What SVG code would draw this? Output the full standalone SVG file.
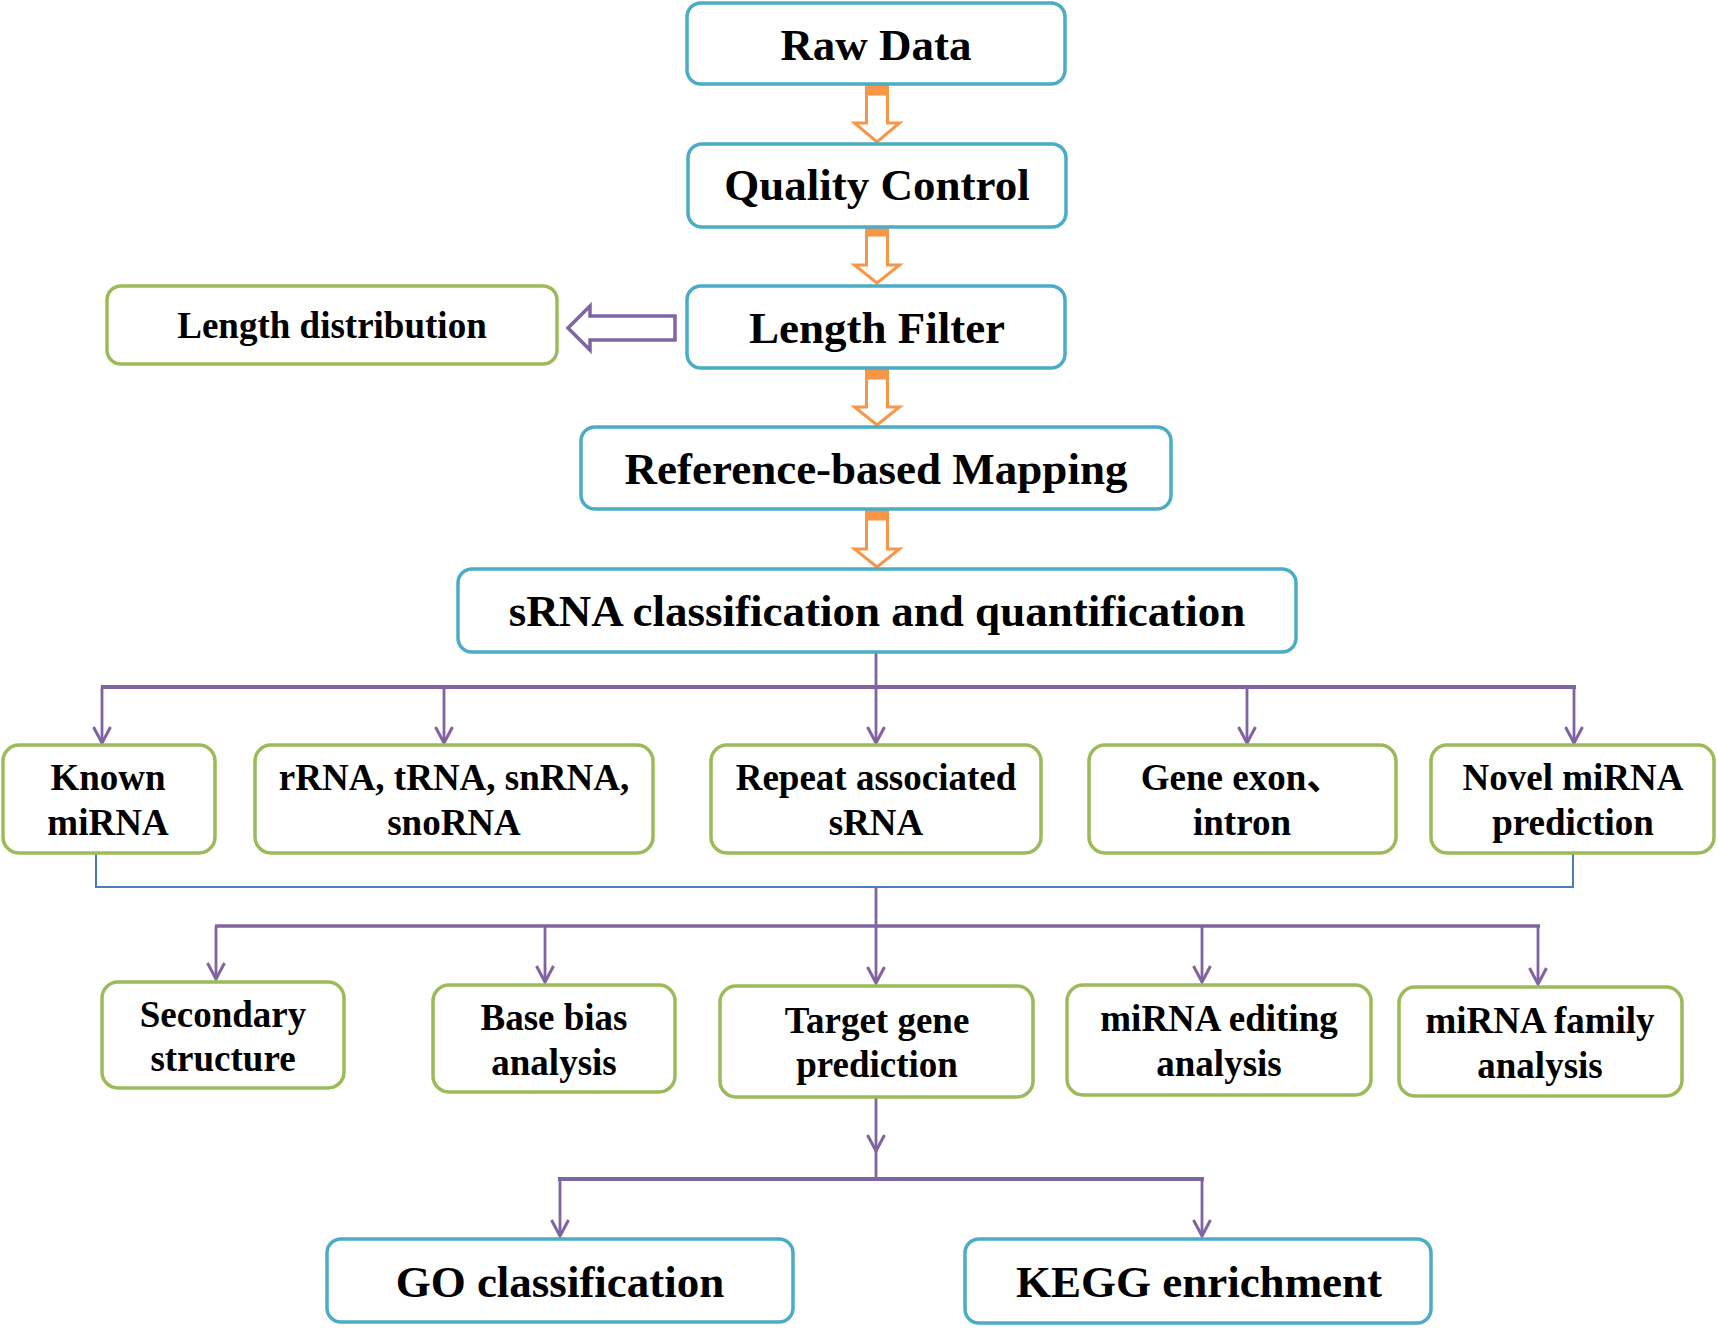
<svg xmlns="http://www.w3.org/2000/svg" width="1718" height="1335" viewBox="0 0 1718 1335">
<style>
  .bb { fill: #FFFFFF; stroke: #4BACC6; stroke-width: 3.5; }
  .gb { fill: #FFFFFF; stroke: #9BBB59; stroke-width: 3.5; }
  .t45 { font-family: "Liberation Serif", "Times New Roman", serif; font-weight: bold; font-size: 45px; fill: #000000; text-anchor: middle; }
  .t37 { font-family: "Liberation Serif", "Times New Roman", "Noto Sans CJK SC", serif; font-weight: bold; font-size: 37px; fill: #000000; text-anchor: middle; }
  .oa { fill: #FFFFFF; stroke: #F79646; stroke-width: 3; stroke-linejoin: miter; }
  .ob { fill: #F79646; stroke: none; }
  .pa { fill: #FFFFFF; stroke: #8064A2; stroke-width: 3.5; }
  .pl { fill: none; stroke: #8064A2; stroke-width: 2.8; }
  .ph { fill: none; stroke: #8064A2; stroke-width: 4; }
  .bl { fill: none; stroke: #4A7EBB; stroke-width: 2; }
</style>
<defs>
  <marker id="v" viewBox="-20 -12 24 24" refX="0" refY="0" markerWidth="24" markerHeight="24" markerUnits="userSpaceOnUse" orient="auto">
    <path d="M-16,-8.5 L0,0 L-16,8.5" fill="none" stroke="#8064A2" stroke-width="3"/>
  </marker>
</defs>
<rect width="1718" height="1335" fill="#FFFFFF"/>

<g id="connectors">
  <!-- orange block arrows -->
  <g id="arrow-raw-qc">
    <rect class="ob" x="865" y="83" width="24" height="11"/>
    <path class="oa" d="M866.5,94 V123 H854.5 L877,142 L899.5,123 H887.5 V94 Z"/>
  </g>
  <g id="arrow-qc-lf">
    <rect class="ob" x="865" y="225" width="24" height="10"/>
    <path class="oa" d="M866.5,235 V265 H854.5 L877,283 L899.5,265 H887.5 V235 Z"/>
  </g>
  <g id="arrow-lf-rbm">
    <rect class="ob" x="865" y="367" width="24" height="11"/>
    <path class="oa" d="M866.5,378 V407 H854.5 L877,425 L899.5,407 H887.5 V378 Z"/>
  </g>
  <g id="arrow-rbm-srna">
    <rect class="ob" x="865" y="508" width="24" height="11"/>
    <path class="oa" d="M866.5,519 V549 H854.5 L877,567 L899.5,549 H887.5 V519 Z"/>
  </g>
  <!-- purple hollow left arrow -->
  <path id="arrow-lf-ld" class="pa" d="M675,316 V340 H590 V350 L568,328 L590,306 V316 Z"/>

  <!-- level 1 tree -->
  <line class="pl" x1="876" y1="652" x2="876" y2="687"/>
  <line class="ph" x1="101" y1="687" x2="1576" y2="687"/>
  <line class="pl" x1="102" y1="687" x2="102" y2="743" marker-end="url(#v)"/>
  <line class="pl" x1="444" y1="687" x2="444" y2="743" marker-end="url(#v)"/>
  <line class="pl" x1="876" y1="687" x2="876" y2="743" marker-end="url(#v)"/>
  <line class="pl" x1="1247" y1="687" x2="1247" y2="743" marker-end="url(#v)"/>
  <line class="pl" x1="1574" y1="687" x2="1574" y2="743" marker-end="url(#v)"/>

  <!-- blue merge line -->
  <path class="bl" d="M96,854 V887 H1573 V854"/>

  <!-- level 2 tree -->
  <line class="pl" x1="876" y1="887" x2="876" y2="926"/>
  <line class="ph" x1="215" y1="926" x2="1540" y2="926" style="stroke-width:3.5"/>
  <line class="pl" x1="216" y1="926" x2="216" y2="979" marker-end="url(#v)"/>
  <line class="pl" x1="545" y1="926" x2="545" y2="982" marker-end="url(#v)"/>
  <line class="pl" x1="876" y1="926" x2="876" y2="983" marker-end="url(#v)"/>
  <line class="pl" x1="1202" y1="926" x2="1202" y2="982" marker-end="url(#v)"/>
  <line class="pl" x1="1538" y1="926" x2="1538" y2="984" marker-end="url(#v)"/>

  <!-- target gene to GO / KEGG -->
  <line class="pl" x1="876" y1="1097" x2="876" y2="1151" marker-end="url(#v)"/>
  <line class="pl" x1="876" y1="1151" x2="876" y2="1180"/>
  <line class="ph" x1="558" y1="1179" x2="1204" y2="1179"/>
  <line class="pl" x1="560" y1="1179" x2="560" y2="1236" marker-end="url(#v)"/>
  <line class="pl" x1="1202" y1="1179" x2="1202" y2="1236" marker-end="url(#v)"/>
</g>

<g id="raw-data">
  <rect class="bb" x="687" y="3" width="378" height="81" rx="14"/>
  <text class="t45" x="876" y="60">Raw Data</text>
</g>
<g id="quality-control">
  <rect class="bb" x="688" y="144" width="378" height="83" rx="14"/>
  <text class="t45" x="877" y="200">Quality  Control</text>
</g>
<g id="length-filter">
  <rect class="bb" x="687" y="286" width="378" height="82" rx="14"/>
  <text class="t45" x="877" y="343">Length  Filter</text>
</g>
<g id="length-distribution">
  <rect class="gb" x="107" y="286" width="450" height="78" rx="14"/>
  <text class="t37" x="332" y="338">Length distribution</text>
</g>
<g id="reference-mapping">
  <rect class="bb" x="581" y="427" width="590" height="82" rx="14"/>
  <text class="t45" x="876" y="484">Reference-based  Mapping</text>
</g>
<g id="srna-classification">
  <rect class="bb" x="458" y="569" width="838" height="83" rx="14"/>
  <text class="t45" x="877" y="626">sRNA classification  and  quantification</text>
</g>

<g id="known-mirna">
  <rect class="gb" x="3" y="745" width="212" height="108" rx="16"/>
  <text class="t37" x="108" y="790">Known</text>
  <text class="t37" x="108" y="835">miRNA</text>
</g>
<g id="rrna-trna">
  <rect class="gb" x="255" y="745" width="398" height="108" rx="16"/>
  <text class="t37" x="454" y="790">rRNA, tRNA, snRNA,</text>
  <text class="t37" x="454" y="835">snoRNA</text>
</g>
<g id="repeat-srna">
  <rect class="gb" x="711" y="745" width="330" height="108" rx="16"/>
  <text class="t37" x="876" y="790">Repeat associated</text>
  <text class="t37" x="876" y="835">sRNA</text>
</g>
<g id="gene-exon-intron">
  <rect class="gb" x="1089" y="745" width="307" height="108" rx="16"/>
  <text class="t37" x="1242" y="790">Gene exon、</text>
  <text class="t37" x="1242" y="835">intron</text>
</g>
<g id="novel-mirna">
  <rect class="gb" x="1431" y="745" width="283" height="108" rx="16"/>
  <text class="t37" x="1573" y="790">Novel miRNA</text>
  <text class="t37" x="1573" y="835">prediction</text>
</g>

<g id="secondary-structure">
  <rect class="gb" x="102" y="982" width="242" height="106" rx="16"/>
  <text class="t37" x="223" y="1027">Secondary</text>
  <text class="t37" x="223" y="1071">structure</text>
</g>
<g id="base-bias">
  <rect class="gb" x="433" y="985" width="242" height="107" rx="16"/>
  <text class="t37" x="554" y="1030">Base bias</text>
  <text class="t37" x="554" y="1075">analysis</text>
</g>
<g id="target-gene">
  <rect class="gb" x="720" y="986" width="313" height="111" rx="16"/>
  <text class="t37" x="877" y="1033">Target gene</text>
  <text class="t37" x="877" y="1077">prediction</text>
</g>
<g id="mirna-editing">
  <rect class="gb" x="1067" y="985" width="304" height="110" rx="16"/>
  <text class="t37" x="1219" y="1031">miRNA editing</text>
  <text class="t37" x="1219" y="1076">analysis</text>
</g>
<g id="mirna-family">
  <rect class="gb" x="1399" y="987" width="283" height="109" rx="16"/>
  <text class="t37" x="1540" y="1033">miRNA family</text>
  <text class="t37" x="1540" y="1078">analysis</text>
</g>

<g id="go-classification">
  <rect class="bb" x="327" y="1239" width="466" height="83" rx="14"/>
  <text class="t45" x="560" y="1297">GO classification</text>
</g>
<g id="kegg-enrichment">
  <rect class="bb" x="965" y="1239" width="466" height="84" rx="14"/>
  <text class="t45" x="1199" y="1297">KEGG enrichment</text>
</g>
</svg>
